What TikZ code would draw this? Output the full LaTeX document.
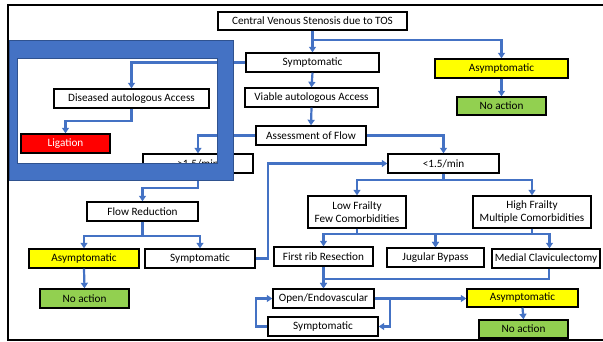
\documentclass[tikz,border=0pt]{standalone}
\usepackage{fontspec}
\setmainfont{Carlito}
\usetikzlibrary{arrows.meta,calc}

\definecolor{flowblue}{HTML}{4472C4}
\definecolor{frameedge}{HTML}{2F528F}
\definecolor{yesyellow}{HTML}{FFFF00}
\definecolor{okgreen}{HTML}{92D050}
\definecolor{stopred}{HTML}{FF0000}

\begin{document}
\begin{tikzpicture}[x=1pt,y=-1pt,
  box/.style={draw=black, line width=1.4pt, fill=white, inner sep=0pt,
    minimum height=19pt, align=center,
    font=\fontsize{11.2}{13}\selectfont},
  asym/.style={box, fill=yesyellow},
  noact/.style={box, fill=okgreen},
  stopbox/.style={box, fill=stopred, text=white},
  conn/.style={draw=flowblue, line width=2.2pt,
    -{Triangle[length=5.5pt,width=7pt]}},
  link/.style={draw=flowblue, line width=2.2pt}
]
\useasboundingbox (0,0) rectangle (603,341);

% outer frame (open on the right)
\draw[line width=2pt] (603,5) -- (8,5) -- (8,339.5) -- (603,339.5);

% main column
\node[box, minimum width=189pt, minimum height=18pt] (c) at (312.5,21) {Central Venous Stenosis due to TOS};
\node[box, minimum width=133pt] (sym1) at (312.5,62.5) {Symptomatic};
\node[box, minimum width=133pt] (viable) at (311.5,97.5) {Viable autologous Access};
\node[box, minimum width=110pt] (assess) at (311,135.5) {Assessment of Flow};
\node[asym, minimum width=133pt] (asy1) at (501.5,68.5) {Asymptomatic};
\node[noact, minimum width=89pt, minimum height=18pt] (noa1) at (501.5,106) {No action};

% diseased access branch
\node[box, minimum width=155pt] (dis) at (131.5,98.5) {Diseased autologous Access};
\node[stopbox, minimum width=89pt] (lig) at (65.5,143.5) {Ligation};

% high flow branch
\node[box, minimum width=110pt] (gt) at (198,163.5) {>1.5/min};
\node[box, minimum width=111pt] (flow) at (142.5,211.5) {Flow Reduction};
\node[asym, minimum width=110pt] (asy2) at (84,258.5) {Asymptomatic};
\node[box, minimum width=110pt] (sym2) at (200,258.5) {Symptomatic};
\node[noact, minimum width=89pt] (noa2) at (84.5,298.5) {No action};

% low flow branch
\node[box, minimum width=111pt] (lt) at (443.5,163.5) {<1.5/min};
\node[box, minimum width=98pt, minimum height=32pt] (low) at (357,212) {Low Frailty\\Few Comorbidities};
\node[box, minimum width=118pt, minimum height=32pt] (high) at (532,212) {High Frailty\\Multiple Comorbidities};
\node[box, minimum width=99pt] (rib) at (323.5,256.5) {First rib Resection};
\node[box, minimum width=97pt] (jug) at (435.5,257.5) {Jugular Bypass};
\node[box, minimum width=108pt] (med) at (546,258.5) {Medial Claviculectomy};
\node[box, minimum width=101pt] (open) at (323.5,298.5) {Open/Endovascular};
\node[box, minimum width=110pt] (sym3) at (323,326.5) {Symptomatic};
\node[asym, minimum width=111pt, minimum height=18pt] (asy3) at (522.5,298) {Asymptomatic};
\node[noact, minimum width=89pt, minimum height=18pt] (noa3) at (523.5,329) {No action};

% connectors
\draw[conn] (c.south) -- (sym1.north);
\draw[conn] (c.south) -- ++(0,9) -| (asy1.north);
\draw[conn] (sym1.south) -- (viable.north);
\draw[conn] (viable.south) -- (assess.north);
\draw[conn] (asy1.south) -- (noa1.north);
\draw[conn] (sym1.west) -| (dis.north);
\draw[conn] (dis.south) -- ++(0,12) -| (lig.north);
\draw[conn] (assess.west) -| (gt.north);
\draw[conn] (assess.east) -| (lt.north);
\draw[conn] (gt.south) -- ++(0,14) -| (flow.north);
\draw[conn] (flow.south) -- ++(0,14) -| (asy2.north);
\draw[conn] (flow.south) -- ++(0,14) -| (sym2.north);
\draw[conn] (asy2.south) -- (noa2.north);
\draw[conn] (sym2.east) -- ++(12,0) |- (lt.west);
\draw[conn] (lt.south) -- ++(0,6) -| (low.north);
\draw[conn] (lt.south) -- ++(0,6) -| (high.north);
\draw[conn] (low.south) -- ++(0,5) -| (rib.north);
\draw[conn] (low.south) -- ++(0,5) -| (jug.north);
\draw[conn] (high.south) -- ++(0,5) -| (jug.north);
\draw[conn] (high.south) -- ++(0,5) -| ([xshift=3.5pt]med.north);
\draw[conn] (rib.south) -- (open.north);
\draw[conn] ([xshift=3pt]med.south) -- ++(0,10) -| (open.north);
\draw[conn] (open.east) -- (open.east -| asy3.west);
\draw[conn] (open.east) -- ++(15,0) |- (sym3.east);
\draw[conn] (sym3.west) -- ++(-11,0) |- (open.west);
\draw[conn] (asy3.south) -- (noa3.north);

% blue frame laid over the upper left
\fill[flowblue, even odd rule] (9,40) rectangle (233,180) (17,58) rectangle (217,163);
\draw[frameedge, line width=0.8pt] (9,40) rectangle (233,180);
\draw[frameedge, line width=0.8pt] (17,58) rectangle (217,163);
\end{tikzpicture}
\end{document}
